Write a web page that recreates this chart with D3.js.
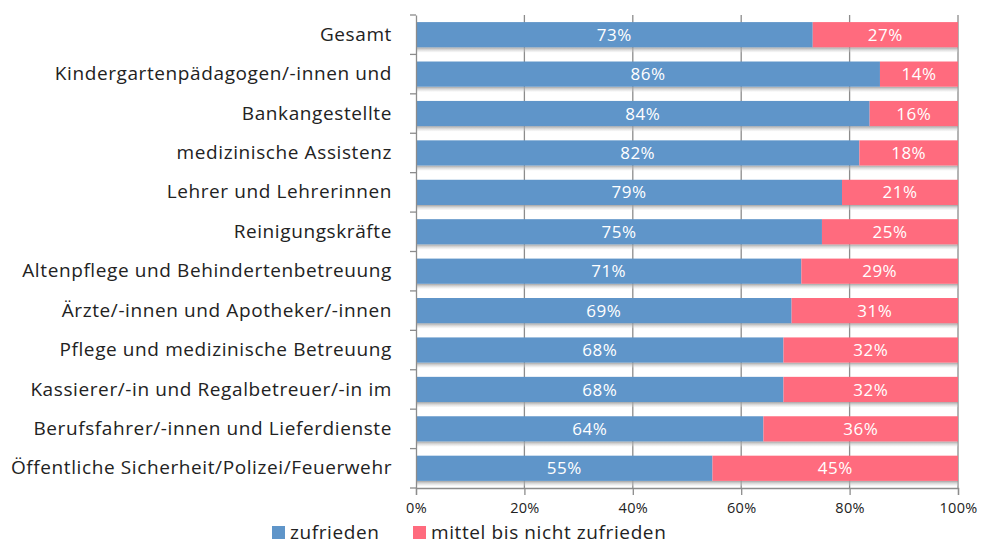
<!DOCTYPE html>
<html>
<head>
<meta charset="utf-8">
<script src="https://cdn.jsdelivr.net/npm/d3@7"></script>
<style>
  body { margin: 0; background: #fff; }
  text { font-family: "Open Sans", sans-serif; }
</style>
</head>
<body>
<div id="chart-area"></div>
<script>
// categories (top to bottom)
const categories = [
    "Gesamt",
    "Kindergartenpädagogen/-innen und",
    "Bankangestellte",
    "medizinische Assistenz",
    "Lehrer und Lehrerinnen",
    "Reinigungskräfte",
    "Altenpflege und Behindertenbetreuung",
    "Ärzte/-innen und Apotheker/-innen",
    "Pflege und medizinische Betreuung",
    "Kassierer/-in und Regalbetreuer/-in im",
    "Berufsfahrer/-innen und Lieferdienste",
    "Öffentliche Sicherheit/Polizei/Feuerwehr"
]
// share in percent
const satisfied = [73.2, 85.6, 83.7, 81.8, 78.6, 74.9, 71.1, 69.3, 67.8, 67.8, 64.1, 54.7]
const notSatisfied = satisfied.map(v => 100 - v)
const seriesNames = ["zufrieden", "mittel bis nicht zufrieden"]
const seriesColors = ["#5f95c9", "#ff6b7e"]
const xTicks = [0, 20, 40, 60, 80, 100]

const W = 983, H = 545
const MARGIN = { LEFT: 416, RIGHT: 25, TOP: 15, BOTTOM: 57 }
const WIDTH = W - MARGIN.LEFT - MARGIN.RIGHT
const HEIGHT = H - MARGIN.TOP - MARGIN.BOTTOM

const svg = d3.select("#chart-area").append("svg")
    .attr("width", W)
    .attr("height", H)

const defs = svg.append("defs")
const shadow = defs.append("linearGradient")
    .attr("id", "shadow")
    .attr("x1", 0).attr("y1", 0).attr("x2", 0).attr("y2", 1)
shadow.append("stop").attr("offset", "0%").attr("stop-color", "#999").attr("stop-opacity", 0.9)
shadow.append("stop").attr("offset", "100%").attr("stop-color", "#ddd").attr("stop-opacity", 0.2)

const g = svg.append("g")
    .attr("transform", `translate(${MARGIN.LEFT}, ${MARGIN.TOP})`)

// scales
const x = d3.scaleLinear().domain([0, 100]).range([0, WIDTH])
const y = d3.scaleBand().domain(categories).range([0, HEIGHT]).paddingInner(0.36).paddingOuter(0.18)

// gridlines
g.append("g")
    .selectAll("line")
    .data(xTicks.slice(1))
    .enter().append("line")
    .attr("x1", d => x(d)).attr("x2", d => x(d))
    .attr("y1", 0).attr("y2", HEIGHT)
    .attr("stroke", "#8c8c8c")
    .attr("stroke-width", 1.3)

// shadows under bars
g.append("g")
    .selectAll("rect")
    .data(categories)
    .enter().append("rect")
    .attr("x", 0)
    .attr("y", d => y(d) + y.bandwidth())
    .attr("width", x(100))
    .attr("height", 5)
    .attr("fill", "url(#shadow)")

// stacked data
const rows = categories.map((c, i) => ({ cat: c, a: satisfied[i], b: notSatisfied[i] }))
const stack = d3.stack().keys(["a", "b"])(rows)

const layers = g.selectAll(".layer")
    .data(stack)
    .enter().append("g")
    .attr("class", "layer")
    .attr("fill", (d, i) => seriesColors[i])

layers.selectAll("rect")
    .data(d => d)
    .enter().append("rect")
    .attr("x", d => x(d[0]))
    .attr("y", d => y(d.data.cat))
    .attr("width", d => x(d[1]) - x(d[0]))
    .attr("height", y.bandwidth())

layers.selectAll("text")
    .data(d => d)
    .enter().append("text")
    .attr("x", d => (x(d[0]) + x(d[1])) / 2)
    .attr("y", d => y(d.data.cat) + y.bandwidth() / 2)
    .attr("dy", "0.36em")
    .attr("text-anchor", "middle")
    .attr("fill", "#fff")
    .attr("font-size", "17px")
    .attr("letter-spacing", "0.5px")
    .text(d => Math.round(d[1] - d[0]) + "%")

// y axis
const yAxis = g.append("g")
    .call(d3.axisLeft(y).tickSize(0).tickPadding(24))
yAxis.select(".domain").attr("stroke", "#8c8c8c").attr("stroke-width", 1.3)
yAxis.selectAll("text").attr("font-size", "19px").attr("fill", "#222")
    .attr("letter-spacing", "0.6px")
    .style("font-family", "'Open Sans', sans-serif")
// boundary ticks of the category axis
const step = y.step()
yAxis.selectAll(".bound")
    .data(d3.range(categories.length + 1))
    .enter().append("line")
    .attr("class", "bound")
    .attr("x1", -6).attr("x2", 0)
    .attr("y1", d => d * step).attr("y2", d => d * step)
    .attr("stroke", "#8c8c8c")
    .attr("stroke-width", 1.3)

// x axis
const xAxis = g.append("g")
    .attr("transform", `translate(0, ${HEIGHT})`)
    .call(d3.axisBottom(x).tickValues(xTicks).tickFormat(d => d + "%").tickSize(7).tickPadding(8))
xAxis.select(".domain").attr("stroke", "#8c8c8c").attr("stroke-width", 1.3)
xAxis.selectAll("line").attr("stroke", "#8c8c8c").attr("stroke-width", 1.3)
xAxis.selectAll("text").attr("font-size", "14.5px").attr("fill", "#222")
    .attr("letter-spacing", "0.3px")
    .style("font-family", "'Open Sans', sans-serif")

// legend
const legend = svg.append("g").attr("transform", `translate(272, 539)`)
const legendX = [0, 141]
seriesNames.forEach((name, i) => {
    const item = legend.append("g").attr("transform", `translate(${legendX[i]}, 0)`)
    item.append("rect")
        .attr("x", 0).attr("y", -13)
        .attr("width", 13).attr("height", 13)
        .attr("fill", seriesColors[i])
    item.append("text")
        .attr("x", 18).attr("y", 0)
        .attr("font-size", "19px")
        .attr("letter-spacing", "0.6px")
        .attr("fill", "#222")
        .text(name)
})
</script>
</body>
</html>
